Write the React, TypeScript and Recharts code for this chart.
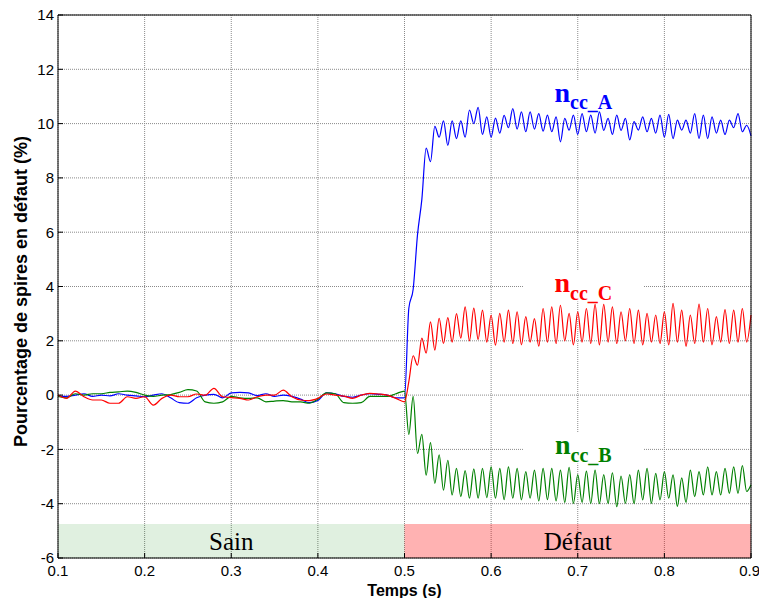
import React from 'react';
import {
  LineChart,
  Line,
  XAxis,
  YAxis,
  CartesianGrid,
  ReferenceArea,
} from 'recharts';

// Sample times (s): healthy part every 10 ms, fault part every 5 ms
const healthyTime = [
  0.1, 0.11, 0.12, 0.13, 0.14, 0.15, 0.16, 0.17, 0.18, 0.19,
  0.2, 0.21, 0.22, 0.23, 0.24, 0.25, 0.26, 0.27, 0.28, 0.29,
  0.3, 0.31, 0.32, 0.33, 0.34, 0.35, 0.36, 0.37, 0.38, 0.39,
  0.4, 0.41, 0.42, 0.43, 0.44, 0.45, 0.46, 0.47, 0.48, 0.49,
  0.5,
];
const faultTime = [
  0.505, 0.51, 0.515, 0.52, 0.525, 0.53, 0.535, 0.54, 0.545, 0.55,
  0.555, 0.56, 0.565, 0.57, 0.575, 0.58, 0.585, 0.59, 0.595, 0.6,
  0.605, 0.61, 0.615, 0.62, 0.625, 0.63, 0.635, 0.64, 0.645, 0.65,
  0.655, 0.66, 0.665, 0.67, 0.675, 0.68, 0.685, 0.69, 0.695, 0.7,
  0.705, 0.71, 0.715, 0.72, 0.725, 0.73, 0.735, 0.74, 0.745, 0.75,
  0.755, 0.76, 0.765, 0.77, 0.775, 0.78, 0.785, 0.79, 0.795, 0.8,
  0.805, 0.81, 0.815, 0.82, 0.825, 0.83, 0.835, 0.84, 0.845, 0.85,
  0.855, 0.86, 0.865, 0.87, 0.875, 0.88, 0.885, 0.89, 0.895, 0.9,
];

// n_cc_A (blue)
const healthyA = [
  -0.05, -0.05, 0, 0.05, -0.05, 0, -0.03, 0.05, 0, -0.03,
  -0.06, 0, 0.05, -0.1, -0.28, -0.3, -0.1, 0, 0.03, -0.1,
  0.08, 0.1, 0.08, -0.02, 0.05, -0.05, 0, -0.05, -0.15, -0.28,
  -0.2, 0.08, 0.05, -0.05, -0.08, 0, 0.05, 0.03, 0, -0.1,
  -0.1,
];
const faultA = [
  3.2, 3.9, 5.9, 7.2, 9.1, 8.6, 9.9, 9.5, 10.1, 9.2,
  10.1, 9.45, 10.1, 9.5, 10.5, 10.0, 10.6, 9.6, 10.25, 9.5,
  10.2, 9.65, 10.3, 9.85, 10.55, 9.8, 10.43, 9.7, 10.43, 9.8,
  10.37, 9.72, 10.31, 9.7, 10.25, 9.33, 10.19, 9.76, 10.31, 9.6,
  10.37, 9.7, 10.31, 9.65, 10.43, 9.75, 10.19, 9.6, 10.31, 9.75,
  10.19, 9.4, 10.07, 9.76, 10.25, 9.7, 10.19, 9.65, 10.31, 9.5,
  10.34, 9.45, 10.13, 9.76, 10.13, 9.65, 10.37, 9.45, 10.31, 9.45,
  10.25, 9.65, 10.13, 9.6, 10.13, 9.85, 10.37, 9.7, 9.94, 9.55,
];

// n_cc_B (green)
const healthyB = [
  -0.05, -0.1, 0.05, 0, 0.05, 0.05, 0.1, 0.12, 0.15, 0.1,
  0, -0.05, 0, 0.02, 0.1, 0.2, 0.15, -0.25, -0.3, -0.25,
  -0.05, -0.1, -0.12, -0.1, -0.25, -0.22, -0.2, -0.25, -0.25, -0.3,
  -0.15, 0.08, 0.05, -0.28, -0.3, -0.28, -0.05, -0.05, -0.05, 0.05,
  0.15,
];
const faultB = [
  -1.45, -0.05, -2.15, -1.45, -2.95, -1.75, -3.25, -2.2, -3.5, -2.4,
  -3.68, -2.7, -3.74, -2.78, -3.8, -2.72, -3.8, -2.7, -3.78, -2.64,
  -3.8, -2.7, -3.85, -2.64, -3.8, -2.7, -3.86, -2.82, -3.8, -2.76,
  -3.9, -2.7, -3.85, -2.7, -3.9, -2.76, -3.95, -2.66, -3.99, -2.93,
  -3.95, -2.8, -3.99, -2.76, -4.0, -2.93, -3.99, -2.86, -4.11, -2.98,
  -3.99, -2.93, -4.0, -2.76, -3.86, -2.7, -3.99, -2.88, -3.86, -2.82,
  -3.8, -2.94, -4.1, -3.05, -3.95, -2.76, -3.74, -2.82, -3.68, -2.64,
  -3.68, -2.82, -3.68, -2.7, -3.62, -2.64, -3.62, -2.6, -3.55, -3.3,
];

// n_cc_C (red)
const healthyC = [
  0, -0.12, 0.15, -0.06, -0.18, -0.18, -0.3, -0.3, -0.06, -0.12,
  -0.06, -0.37, -0.12, 0, -0.06, -0.06, 0.04, 0, 0.25, -0.06,
  -0.09, -0.12, -0.18, -0.06, 0, 0, 0.18, -0.06, -0.18, -0.2,
  -0.12, 0.04, 0, -0.04, -0.12, 0, 0.06, 0.04, 0, -0.12,
  -0.25,
];
const faultC = [
  0.5, 1.45, 1.1, 2.1, 1.55, 2.7, 1.66, 2.83, 1.9, 2.85,
  1.95, 3.0, 2.1, 3.25, 2.0, 3.2, 2.05, 3.13, 1.95, 2.95,
  1.84, 3.01, 1.95, 3.13, 1.9, 3.07, 1.85, 2.89, 1.95, 2.82,
  1.8, 3.19, 1.95, 3.25, 1.9, 3.31, 2.0, 3.01, 1.85, 3.07,
  1.95, 3.19, 1.9, 3.34, 1.85, 3.34, 1.95, 3.25, 1.9, 3.07,
  2.0, 3.19, 1.9, 3.13, 1.85, 3.01, 1.95, 2.95, 1.9, 3.07,
  1.85, 3.38, 1.95, 3.13, 1.8, 2.95, 1.9, 3.35, 1.95, 3.19,
  1.85, 2.89, 1.95, 3.15, 1.9, 3.13, 1.95, 3.19, 1.95, 2.95,
];

const xTicks = [0.1, 0.2, 0.3, 0.4, 0.5, 0.6, 0.7, 0.8, 0.9];
const yTicks = [-6, -4, -2, 0, 2, 4, 6, 8, 10, 12, 14];

const time = [...healthyTime, ...faultTime];
const seriesA = [...healthyA, ...faultA];
const seriesB = [...healthyB, ...faultB];
const seriesC = [...healthyC, ...faultC];

const data = time.map((t, i) => ({ t, a: seriesA[i], b: seriesB[i], c: seriesC[i] }));

const SANS = 'Arial, "Liberation Sans", sans-serif';
const SERIF = '"Times New Roman", "Liberation Serif", serif';

// curve label with subscript, drawn inside its white box
const curveLabel = (sub: string, color: string) => (props: any) => {
  const vb = props.viewBox;
  if (!vb) return null;
  const cx = vb.x + vb.width / 2;
  const base = vb.y + vb.height - 9.5;
  return (
    <text x={cx} y={base} textAnchor="middle" fill={color} fontFamily={SERIF} fontWeight="bold">
      <tspan fontSize={28}>n</tspan>
      <tspan fontSize={20} dy={7.6}>{'cc_' + sub}</tspan>
    </text>
  );
};

// rotated y axis title, a little below the plot centre like the original
const yTitle = (props: any) => {
  const vb = props.viewBox;
  if (!vb) return null;
  const x = vb.x + 27;
  const y = vb.y + vb.height / 2 + 5;
  return (
    <text
      x={x}
      y={y}
      transform={`rotate(-90, ${x}, ${y})`}
      textAnchor="middle"
      fill="#000"
      fontSize={18}
      fontWeight="bold"
      fontFamily={SANS}
    >
      Pourcentage de spires en défaut (%)
    </text>
  );
};

const tickStyle = { fill: '#000', fontSize: 15, fontFamily: SANS };

export default function App() {
  return (
    <div
      style={{
        position: 'absolute',
        left: 0,
        top: 0,
        width: 759,
        height: 598,
        overflow: 'hidden',
        background: '#fff',
      }}
    >
      <LineChart width={759} height={598} data={data} margin={{ top: 0, right: 0, bottom: 0, left: 0 }}>
        <CartesianGrid stroke="#8a8a8a" strokeDasharray="1 1" />
        <XAxis
          dataKey="t"
          type="number"
          domain={[0.1, 0.9]}
          ticks={xTicks}
          height={40}
          stroke="#000"
          tickSize={-5}
          tickMargin={12}
          tick={tickStyle}
          label={{
            value: 'Temps (s)',
            position: 'insideBottom',
            offset: 2,
            fill: '#000',
            fontSize: 16,
            fontWeight: 'bold',
            fontFamily: SANS,
          }}
        />
        <XAxis
          xAxisId="top"
          orientation="top"
          dataKey="t"
          type="number"
          domain={[0.1, 0.9]}
          ticks={xTicks}
          height={15}
          stroke="#000"
          tickSize={-5}
          tick={false}
        />
        <YAxis
          type="number"
          domain={[-6, 14]}
          ticks={yTicks}
          width={58}
          stroke="#000"
          tickSize={-5}
          tickMargin={9}
          tick={tickStyle}
          label={yTitle}
        />
        <YAxis
          yAxisId="right"
          orientation="right"
          type="number"
          domain={[-6, 14]}
          ticks={yTicks}
          width={8}
          stroke="#000"
          tickSize={-5}
          tick={false}
        />

        <ReferenceArea
          x1={0.1}
          x2={0.5}
          y1={-6}
          y2={-4.75}
          fill="#008000"
          fillOpacity={0.12}
          stroke="none"
          label={{ value: 'Sain', position: 'center', fill: '#000', fontSize: 25, fontFamily: SERIF }}
        />
        <ReferenceArea
          x1={0.5}
          x2={0.9}
          y1={-6}
          y2={-4.75}
          fill="#ff0000"
          fillOpacity={0.3}
          stroke="none"
          label={{ value: 'Défaut', position: 'center', fill: '#000', fontSize: 25, fontFamily: SERIF }}
        />

        <ReferenceArea x1={0.637} x2={0.776} y1={10.45} y2={11.6} fill="#fff" fillOpacity={1} stroke="none" label={curveLabel('A', '#0000ff')} />
        <ReferenceArea x1={0.637} x2={0.776} y1={3.45} y2={4.6} fill="#fff" fillOpacity={1} stroke="none" label={curveLabel('C', '#ff0000')} />
        <ReferenceArea x1={0.637} x2={0.776} y1={-2.52} y2={-1.37} fill="#fff" fillOpacity={1} stroke="none" label={curveLabel('B', '#008000')} />

        <Line type="monotone" dataKey="a" stroke="#0000ff" strokeWidth={1.2} dot={false} isAnimationActive={false} />
        <Line type="monotone" dataKey="b" stroke="#008000" strokeWidth={1.2} dot={false} isAnimationActive={false} />
        <Line type="monotone" dataKey="c" stroke="#ff0000" strokeWidth={1.2} dot={false} isAnimationActive={false} />
      </LineChart>
    </div>
  );
}
